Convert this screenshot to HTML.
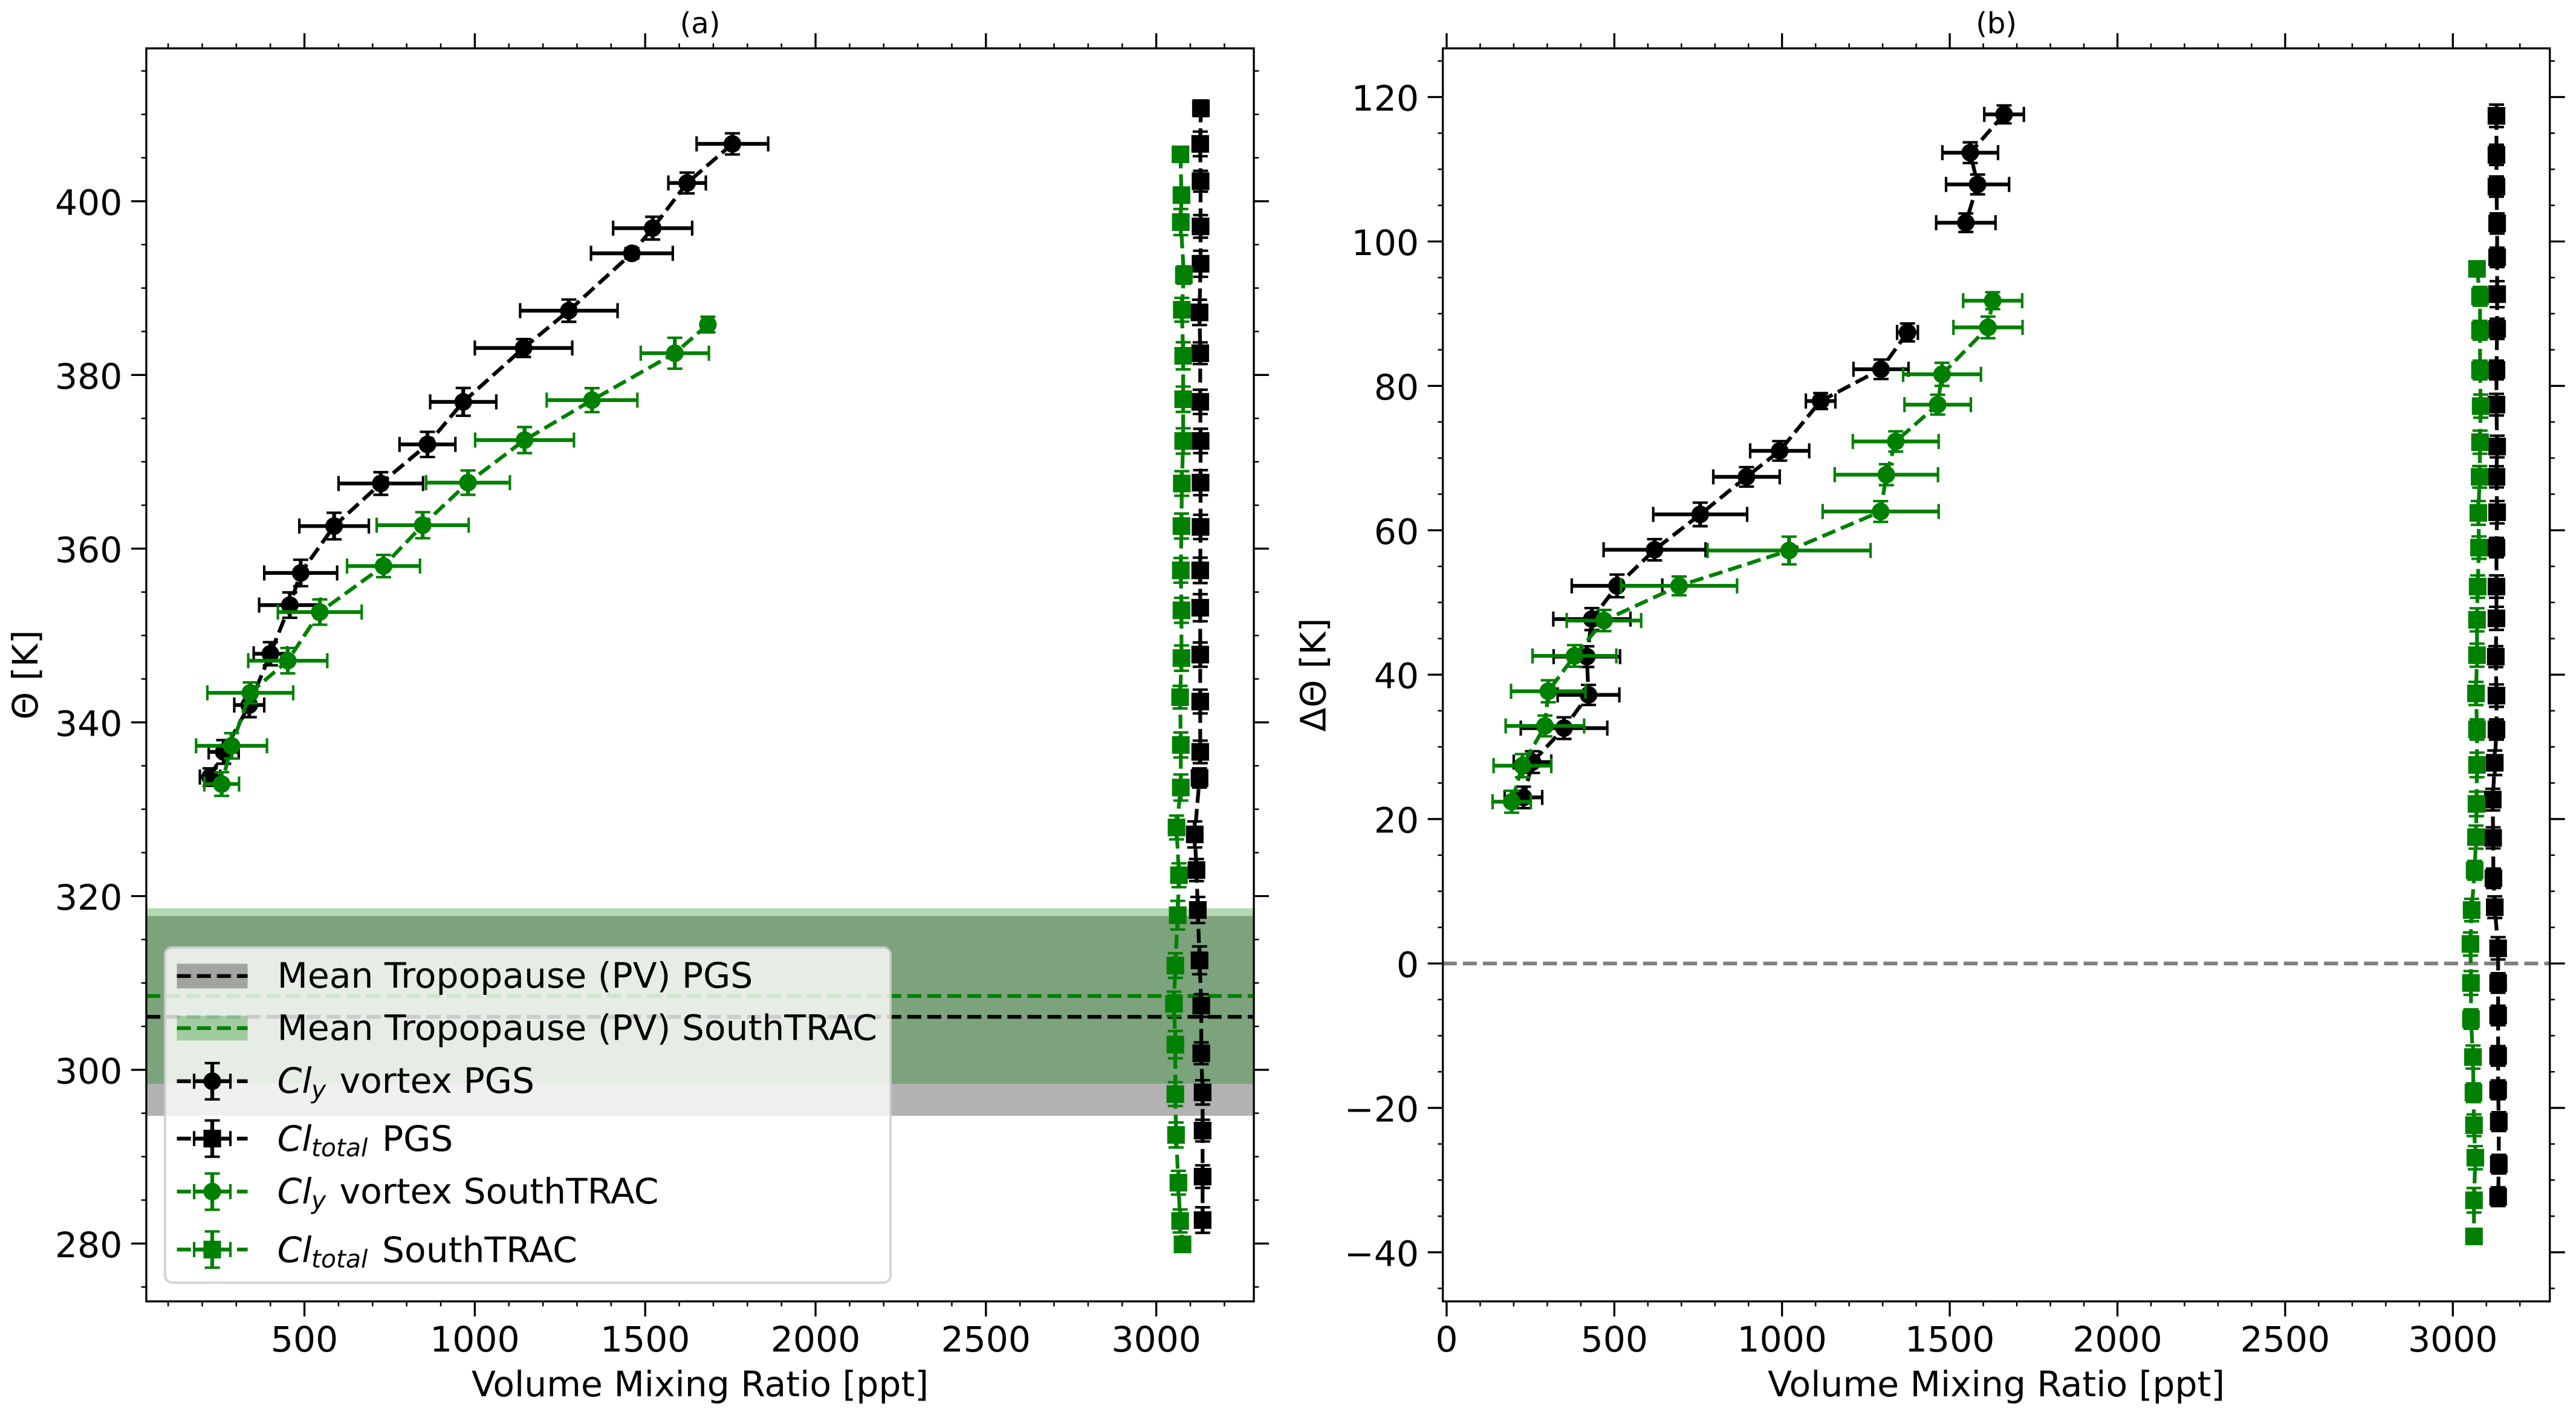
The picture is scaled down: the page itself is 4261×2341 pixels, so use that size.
<!DOCTYPE html>
<html lang="en">
<head>
<meta charset="utf-8">
<title>Chlorine vertical profiles</title>
<style>
html,body{margin:0;padding:0;background:#fff;}
svg{display:block;}
text{font-family:"DejaVu Sans","Liberation Sans",sans-serif;fill:#000;}
</style>
</head>
<body>
<svg id="figure" xmlns="http://www.w3.org/2000/svg" width="4261" height="2341" viewBox="0 0 4261 2341">
  <rect x="0" y="0" width="4261" height="2341" fill="#fff"/>
  <g id="panel-a"></g>
  <g id="panel-b"></g>
  <g id="legend">
    <rect x="273" y="1567.5" width="1200" height="554.5" rx="11.7" ry="11.7" fill="#fff" fill-opacity="0.8" stroke="#ccc" stroke-opacity="0.8" stroke-width="4.17"/>
    <g id="legend-handles"></g>
    <text x="458.6" y="1634" font-size="58.33">Mean Tropopause (PV) PGS</text>
    <text x="458.6" y="1720.4" font-size="58.33">Mean Tropopause (PV) SouthTRAC</text>
    <text x="458.6" y="1808" font-size="58.33"><tspan font-style="italic">Cl</tspan><tspan font-style="italic" font-size="40.8" x="515" dy="9">y</tspan><tspan x="561.6" dy="-9">vortex PGS</tspan></text>
    <text x="458.6" y="1904" font-size="58.33"><tspan font-style="italic">Cl</tspan><tspan font-style="italic" font-size="40.8" x="515" dy="9">total</tspan><tspan x="632" dy="-9">PGS</tspan></text>
    <text x="458.6" y="1990.8" font-size="58.33"><tspan font-style="italic">Cl</tspan><tspan font-style="italic" font-size="40.8" x="515" dy="9">y</tspan><tspan x="561.6" dy="-9">vortex SouthTRAC</tspan></text>
    <text x="458.6" y="2087.8" font-size="58.33"><tspan font-style="italic">Cl</tspan><tspan font-style="italic" font-size="40.8" x="515" dy="9">total</tspan><tspan x="632" dy="-9">SouthTRAC</tspan></text>
  </g>
</svg>
<script>
/* ---------- chart data: panel (a) ---------- */
const aVortexPgsVmr = [1756,1623,1522,1461,1276,1143,966,861,724,587,489,457,400,338,263,223];
const aVortexPgsTheta = [406.6,402.1,396.9,394.0,387.4,383.1,376.9,372.0,367.5,362.6,357.2,353.5,347.9,342.0,336.6,333.7];
const aVortexPgsXerr = [105,55,116,120,143,143,97,82,124,102,107,90,49,44,44,30];
const aVortexPgsYerr = [1.22,1.2,1.31,0.6,1.28,1.03,1.6,1.45,1.3,1.53,1.52,1.46,1.33,1.4,1.36,1.0];

const aTotalPgsVmr = [3131,3129,3130,3130,3130,3127,3129,3129,3130,3130,3130,3129,3129,3129,3129,3129,3127,3113,3118,3122,3127,3132,3132,3136,3136,3136,3136];
const aTotalPgsTheta = [410.7,406.6,402.3,397.1,392.8,387.2,382.5,376.9,372.4,367.6,362.5,357.5,353.2,347.8,342.4,336.6,333.6,327.1,323.0,318.4,312.6,307.4,301.9,297.4,293.0,287.7,282.7];
const aTotalPgsYerr = [0.9,1.42,1.2,1.3,1.5,1.46,1.25,1.4,1.4,1.44,1.4,1.46,1.56,1.4,1.37,1.3,1.1,1.5,1.27,1.5,1.6,1.3,1.25,1.4,1.25,1.3,1.47];

const aVortexStVmr = [1684,1587,1344,1146,980,847,732,545,451,341,286,257];
const aVortexStTheta = [385.8,382.5,377.1,372.5,367.6,362.7,358.0,352.7,347.1,343.4,337.3,332.9];
const aVortexStXerr = [12,100,133,145,123,135,107,123,116,126,104,51];
const aVortexStYerr = [0.9,1.78,1.38,1.5,1.4,1.5,1.28,1.46,1.46,1.2,1.46,1.36];

const aTotalStVmr = [3071,3074,3072,3081,3075,3079,3079,3079,3075,3074,3072,3074,3074,3070,3072,3072,3059.5,3066.6,3063,3056,3052,3056,3056,3058,3065,3070,3077];
const aTotalStTheta = [405.4,400.7,397.6,391.5,387.5,382.2,377.2,372.4,367.5,362.6,357.5,352.9,347.4,342.9,337.4,332.5,327.9,322.4,317.8,312.0,307.6,302.9,297.2,292.5,287.0,282.6,279.9];
const aTotalStYerr = [0.5,0.8,1.5,1,1.37,1.56,1.46,1.46,1.42,1.44,1.42,1.44,1.46,1.3,1.44,1.5,1.37,1.37,1.65,1.42,1.4,1.57,1.37,1.44,1.37,1.32,0.5];

const aTropopausePgs = {mean:306.1, low:294.7, high:317.7};
const aTropopauseSt = {mean:308.5, low:298.4, high:318.6};

const aXTickLabels = [500,1000,1500,2000,2500,3000];
const aYTickLabels = [280,300,320,340,360,380,400];

/* ---------- chart data: panel (b) ---------- */
const bVortexPgsVmr = [1662,1561,1583,1548,null,1374,1295,1115,993,894,756,620,508,433,418,423,350,256,229];
const bVortexPgsDTheta = [117.6,112.3,107.9,102.6,null,87.4,82.3,77.9,71.0,67.4,62.2,57.3,52.3,47.7,42.5,37.2,32.6,27.9,23.0];
const bVortexPgsXerr = [59,83,94,88.5,null,31,82,44,88,99,140,152,135,115,99,92,129,56,56];
const bVortexPgsYerr = [1.24,1.43,1.37,1.28,null,1.24,1.35,1.1,1.35,1.35,1.63,1.47,1.57,1.52,1.43,1.39,1.5,1.5,1.49];

const bTotalPgsVmr = [3130,3130,3130,3132,3132,3132,3132,3130,3130,3132,3130,3132,3130,3130,3130,3128,3130,3130,3125,3119,3120,3121,3125,3135,3135,3135,3135,3135,3137,3137,3135];
const bTotalPgsDTheta = [117.4,112.0,107.6,102.5,97.8,92.7,87.9,82.2,77.4,71.6,67.4,62.5,57.6,52.2,47.8,42.5,37.1,32.4,27.8,22.7,17.4,11.8,7.8,2.1,-2.7,-7.2,-12.8,-17.5,-21.9,-27.8,-32.3];
const bTotalPgsYerr = [1.55,1.4,1.4,1.4,1.35,1.8,1.4,1.3,1.5,1.5,1.47,1.55,1.35,1.55,1.6,1.45,1.55,1.4,1.7,1.5,1.46,1.35,1.5,1.55,1.35,1.35,1.35,1.3,1.3,1.3,1.3];

const bVortexStVmr = [1628,1614,1477,1464,1339,1311,1294,1021,693,469,381,303,293,226,194];
const bVortexStDTheta = [91.8,88.1,81.6,77.4,72.3,67.7,62.6,57.2,52.3,47.5,42.6,37.7,32.9,27.4,22.4];
const bVortexStXerr = [88,103,116,99,128,154,173,243,173,111,125,111,117,86,57];
const bVortexStYerr = [1.17,1.5,1.6,1.37,1.41,1.45,1.44,1.92,1.3,1.47,1.49,1.52,1.44,1.6,1.52];

const bTotalStVmr = [3072,3081,3081,3081,3083,3081,3080,3076,3078,3074,3072,3072,3069,3072,3072,3070.5,3069,3065,3056,3052.5,3054,3054,3060,3061.5,3063,3067,3063,3063];
const bTotalStDTheta = [96.2,92.4,87.7,82.2,77.2,72.2,67.4,62.4,57.6,52.2,47.6,42.7,37.4,32.4,27.5,22.1,17.5,12.9,7.4,2.7,-2.7,-7.7,-12.96,-17.9,-22.4,-26.9,-32.8,-37.8];
const bTotalStYerr = [0.8,1.3,1.3,1.3,1.6,1.6,1.5,1.65,1.55,1.55,1.6,1.6,1.6,1.4,1.7,1.7,1.6,1.3,1.55,1.6,1.65,1.35,1.6,1.3,1.5,1.6,1.7,0.7];

const bReferenceLevel = 0;
const bXTickLabels = [0,500,1000,1500,2000,2500,3000];
const bYTickLabels = [-40,-20,0,20,40,60,80,100,120];

const totalXerr = 12;

/* ---------- drawing ---------- */
const NS = 'http://www.w3.org/2000/svg';
const LW = 6.25, DASH = '23.125 10', CAP = 12.5, CAPW = 4.17, MS = 29.2;
const BLACK = '#000000', GREEN = '#008000', GRAY = '#808080';

function mk(tag, attrs, parent) {
  const el = document.createElementNS(NS, tag);
  for (const k in attrs) el.setAttribute(k, attrs[k]);
  parent.appendChild(el);
  return el;
}
function line(x1, y1, x2, y2, color, width, parent) {
  return mk('line', {x1:x1, y1:y1, x2:x2, y2:y2, stroke:color, 'stroke-width':width}, parent);
}

function makePanel(cfg) {
  const axisX = v => cfg.x0 + (v - cfg.xRef) * cfg.xk;
  const axisY = v => cfg.y0 - (v - cfg.yRef) * cfg.yk;
  return Object.assign({axisX, axisY}, cfg);
}

const panelA = makePanel({
  root: document.getElementById('panel-a'),
  left:242, right:2074, top:80, bottom:2153,
  x0:503.6, xRef:500, xk:0.5636,
  y0:2057.3, yRef:280, yk:14.37,
  minorX:[100,3200], minorY:[275,415]
});
const panelB = makePanel({
  root: document.getElementById('panel-b'),
  left:2386.6, right:4217.7, top:80, bottom:2153,
  x0:2392.9, xRef:0, xk:0.5548,
  y0:1594, yRef:0, yk:11.945,
  minorX:[0,3200], minorY:[-45,125]
});

function drawBand(p, band, color, name) {
  const el = mk('rect', {
    x:p.left, width:p.right - p.left,
    y:p.axisY(band.high), height:p.axisY(band.low) - p.axisY(band.high),
    fill:color, 'fill-opacity':0.3
  }, p.root);
  
  
}
function drawHLine(p, value, color, name) {
  const y = p.axisY(value);
  const el = line(p.left, y, p.right, y, color, LW, p.root);
  el.setAttribute('stroke-dasharray', DASH);
  
  
}

function drawSeries(p, xs, ys, xerr, yerr, color, marker, name) {
  const g = mk('g', {}, p.root);
  
  
  let seg = [];
  const flush = () => {
    if (seg.length > 1) {
      const pl = mk('polyline', {points:seg.join(' '), fill:'none', stroke:color, 'stroke-width':LW, 'stroke-dasharray':DASH}, g);
      
      
    }
    seg = [];
  };
  xs.forEach((v, i) => {
    if (v === null) { flush(); return; }
    seg.push(p.axisX(v) + ',' + p.axisY(ys[i]));
  });
  flush();
  xs.forEach((v, i) => {
    if (v === null) return;
    const cx = p.axisX(v), cy = p.axisY(ys[i]);
    const xe = Array.isArray(xerr) ? xerr[i] : xerr;
    const x1 = p.axisX(v - xe), x2 = p.axisX(v + xe);
    const y1 = p.axisY(ys[i] + yerr[i]), y2 = p.axisY(ys[i] - yerr[i]);
    const pt = mk('g', {}, g);
    
    
    line(x1, cy, x2, cy, color, LW, pt);
    line(cx, y1, cx, y2, color, LW, pt);
    line(x1, cy - CAP, x1, cy + CAP, color, CAPW, pt);
    line(x2, cy - CAP, x2, cy + CAP, color, CAPW, pt);
    line(cx - CAP, y1, cx + CAP, y1, color, CAPW, pt);
    line(cx - CAP, y2, cx + CAP, y2, color, CAPW, pt);
    if (marker === 'circle') {
      mk('circle', {cx:cx, cy:cy, r:MS / 2, fill:color}, pt);
    } else {
      mk('rect', {x:cx - MS / 2, y:cy - MS / 2, width:MS, height:MS, fill:color}, pt);
    }
  });
}

function fmt(v) { return v < 0 ? '\u2212' + Math.abs(v) : String(v); }

function drawAxes(p, xLabels, yLabels, xTitle, yTitle, yTitleX, title, tag) {
  const g = mk('g', {}, p.root);
  
  
  const MAJ = 25, MIN = 8.3, MAJW = 3.33, MINW = 2.5;

  for (let v = p.minorX[0]; v <= p.minorX[1]; v += 100) {
    if (v % 500 === 0) continue;
    const x = p.axisX(v);
    const t1 = line(x, p.bottom, x, p.bottom + MIN, BLACK, MINW, g);
    
    
    const t2 = line(x, p.top, x, p.top - MIN, BLACK, MINW, g);
    
    
  }
  for (let v = p.minorY[0]; v <= p.minorY[1]; v += 5) {
    if (v % 20 === 0) continue;
    const y = p.axisY(v);
    const t1 = line(p.left, y, p.left - MIN, y, BLACK, MINW, g);
    
    
    const t2 = line(p.right, y, p.right + MIN, y, BLACK, MINW, g);
    
    
  }
  xLabels.forEach(v => {
    const x = p.axisX(v);
    const t1 = line(x, p.bottom, x, p.bottom + MAJ, BLACK, MAJW, g);
    
    
    const t2 = line(x, p.top, x, p.top - MAJ, BLACK, MAJW, g);
    
    
    const lb = mk('text', {x:x, y:2236, 'font-size':58.33, 'text-anchor':'middle'}, g);
    lb.textContent = fmt(v);
    
    
  });
  yLabels.forEach(v => {
    const y = p.axisY(v);
    const t1 = line(p.left, y, p.left - MAJ, y, BLACK, MAJW, g);
    
    
    const t2 = line(p.right, y, p.right + MAJ, y, BLACK, MAJW, g);
    
    
    const lb = mk('text', {x:p.left - 39.6, y:y + 22.5, 'font-size':58.33, 'text-anchor':'end'}, g);
    lb.textContent = fmt(v);
    
    
  });

  const frame = mk('rect', {x:p.left, y:p.top, width:p.right - p.left, height:p.bottom - p.top, fill:'none', stroke:BLACK, 'stroke-width':3.33}, g);
  
  

  const cx = (p.left + p.right) / 2, cy = (p.top + p.bottom) / 2;
  const xt = mk('text', {x:cx, y:2310, 'font-size':58.33, 'text-anchor':'middle'}, g);
  xt.textContent = xTitle;
  
  
  const yt = mk('text', {x:0, y:0, 'font-size':58.33, 'text-anchor':'middle', transform:'translate(' + yTitleX + ' ' + cy + ') rotate(-90)'}, g);
  yt.textContent = yTitle;
  
  
  const tt = mk('text', {x:cx, y:55, 'font-size':48, 'text-anchor':'middle'}, g);
  tt.textContent = title;
  
  
}

/* panel a */
drawBand(panelA, aTropopausePgs, BLACK, 'tropopause-band-pgs');
drawBand(panelA, aTropopauseSt, GREEN, 'tropopause-band-southtrac');
drawHLine(panelA, aTropopausePgs.mean, BLACK, 'tropopause-line-pgs');
drawHLine(panelA, aTropopauseSt.mean, GREEN, 'tropopause-line-southtrac');
drawSeries(panelA, aVortexPgsVmr, aVortexPgsTheta, aVortexPgsXerr, aVortexPgsYerr, BLACK, 'circle', 'a-cly-vortex-pgs');
drawSeries(panelA, aTotalPgsVmr, aTotalPgsTheta, totalXerr, aTotalPgsYerr, BLACK, 'square', 'a-cltotal-pgs');
drawSeries(panelA, aVortexStVmr, aVortexStTheta, aVortexStXerr, aVortexStYerr, GREEN, 'circle', 'a-cly-vortex-southtrac');
drawSeries(panelA, aTotalStVmr, aTotalStTheta, totalXerr, aTotalStYerr, GREEN, 'square', 'a-cltotal-southtrac');
drawAxes(panelA, aXTickLabels, aYTickLabels, 'Volume Mixing Ratio [ppt]', '\u0398 [K]', 62, '(a)', 'a');

/* panel b */
drawHLine(panelB, bReferenceLevel, GRAY, 'zero-reference-line');
drawSeries(panelB, bVortexPgsVmr, bVortexPgsDTheta, bVortexPgsXerr, bVortexPgsYerr, BLACK, 'circle', 'b-cly-vortex-pgs');
drawSeries(panelB, bTotalPgsVmr, bTotalPgsDTheta, totalXerr, bTotalPgsYerr, BLACK, 'square', 'b-cltotal-pgs');
drawSeries(panelB, bVortexStVmr, bVortexStDTheta, bVortexStXerr, bVortexStYerr, GREEN, 'circle', 'b-cly-vortex-southtrac');
drawSeries(panelB, bTotalStVmr, bTotalStDTheta, totalXerr, bTotalStYerr, GREEN, 'square', 'b-cltotal-southtrac');
drawAxes(panelB, bXTickLabels, bYTickLabels, 'Volume Mixing Ratio [ppt]', '\u0394\u0398 [K]', 2192.7, '(b)', 'b');

/* legend handles */
const lh = document.getElementById('legend-handles');
function patchHandle(y, color, name) {
  const g = mk('g', {}, lh);
  
  
  mk('rect', {x:292.6, y:y - 20.4, width:117, height:40.8, fill:color, 'fill-opacity':0.3}, g);
  line(292.6, y, 409.6, y, color, LW, g).setAttribute('stroke-dasharray', DASH);
}
function errHandle(y, color, marker, name) {
  const g = mk('g', {}, lh);
  
  
  const cx = 351.1;
  line(292.6, y, 409.6, y, color, LW, g).setAttribute('stroke-dasharray', DASH);
  line(cx - 30, y, cx + 30, y, color, LW, g);
  line(cx, y - 30, cx, y + 30, color, LW, g);
  line(cx - 30, y - CAP, cx - 30, y + CAP, color, CAPW, g);
  line(cx + 30, y - CAP, cx + 30, y + CAP, color, CAPW, g);
  line(cx - CAP, y - 30, cx + CAP, y - 30, color, CAPW, g);
  line(cx - CAP, y + 30, cx + CAP, y + 30, color, CAPW, g);
  if (marker === 'circle') {
    mk('circle', {cx:cx, cy:y, r:MS / 2, fill:color}, g);
  } else {
    mk('rect', {x:cx - MS / 2, y:y - MS / 2, width:MS, height:MS, fill:color}, g);
  }
}
patchHandle(1614.8, BLACK, 'legend-handle-tropopause-pgs');
patchHandle(1701, GREEN, 'legend-handle-tropopause-southtrac');
errHandle(1788.8, BLACK, 'circle', 'legend-handle-cly-pgs');
errHandle(1883.7, BLACK, 'square', 'legend-handle-cltotal-pgs');
errHandle(1971.4, GREEN, 'circle', 'legend-handle-cly-southtrac');
errHandle(2067.3, GREEN, 'square', 'legend-handle-cltotal-southtrac');
</script>
</body>
</html>
